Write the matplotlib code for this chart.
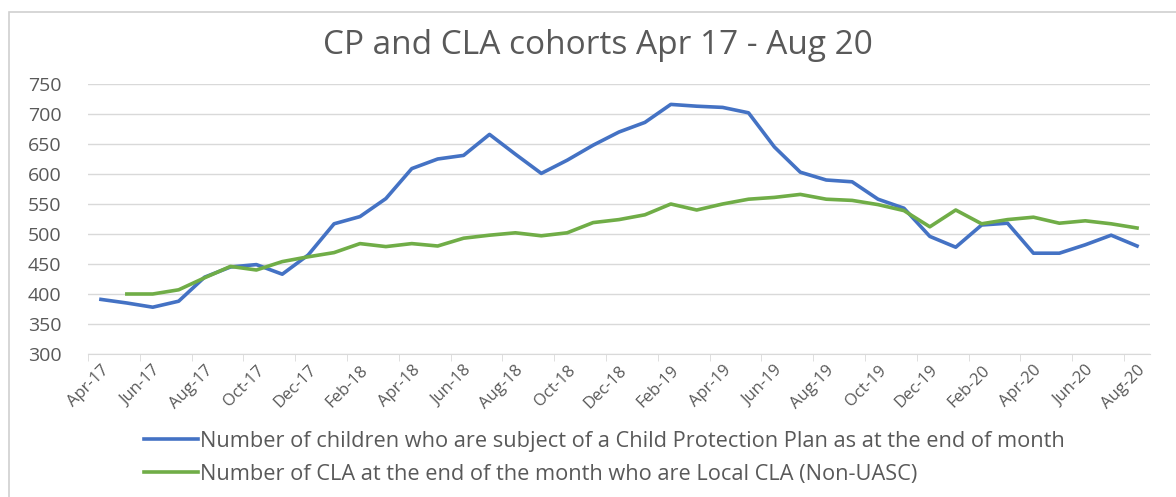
import matplotlib.pyplot as plt
from matplotlib.patches import Rectangle

plt.rcParams['font.family'] = ['Open Sans', 'DejaVu Sans']

months = ['Apr-17', 'May-17', 'Jun-17', 'Jul-17', 'Aug-17', 'Sep-17', 'Oct-17', 'Nov-17',
          'Dec-17', 'Jan-18', 'Feb-18', 'Mar-18', 'Apr-18', 'May-18', 'Jun-18', 'Jul-18',
          'Aug-18', 'Sep-18', 'Oct-18', 'Nov-18', 'Dec-18', 'Jan-19', 'Feb-19', 'Mar-19',
          'Apr-19', 'May-19', 'Jun-19', 'Jul-19', 'Aug-19', 'Sep-19', 'Oct-19', 'Nov-19',
          'Dec-19', 'Jan-20', 'Feb-20', 'Mar-20', 'Apr-20', 'May-20', 'Jun-20', 'Jul-20',
          'Aug-20']

cp_plan = [391, 385, 378, 388, 428, 445, 449, 433, 465, 517, 529, 559, 609, 625,
           631, 666, 633, 601, 623, 648, 670, 686, 716, 713, 711, 702, 645, 603,
           590, 587, 558, 543, 496, 478, 515, 518, 468, 468, 482, 498, 480]

# green series starts one month later
cla_local = [None, 400, 400, 407, 427, 446, 440, 454, 462, 469, 484, 479, 484, 480,
             493, 498, 502, 497, 502, 519, 524, 532, 550, 540, 550, 558, 561, 566,
             558, 556, 549, 539, 512, 540, 517, 524, 528, 518, 522, 517, 510]

cp_label = 'Number of children who are subject of a Child Protection Plan as at the end of month'
cla_label = 'Number of CLA at the end of the month who are Local CLA (Non-UASC)'

x = list(range(len(months)))
cla_x = [i for i, v in zip(x, cla_local) if v is not None]
cla_y = [v for v in cla_local if v is not None]

W, H = 1176, 497
fig = plt.figure(figsize=(W / 100, H / 100), dpi=100)
ax = fig.add_axes([88 / W, 1 - 354 / H, (1150 - 88) / W, (354 - 84) / H])

# chart border
fig.patches.append(Rectangle((9 / W, -0.1), 1.1, 1 - 12 / H + 0.1, transform=fig.transFigure,
                             fill=False, edgecolor='#d0d0d0', linewidth=1.2))

line_cp, = ax.plot(x, cp_plan, color='#4472C4', linewidth=2.6, solid_joinstyle='round')
line_cla, = ax.plot(cla_x, cla_y, color='#70AD47', linewidth=2.6, solid_joinstyle='round')

ax.set_ylim(300, 750)
ax.set_yticks(range(300, 751, 50))
ax.set_xlim(-0.5, len(months) - 0.5)
ax.set_xticks(x[::2])
ax.set_xticklabels(months[::2], rotation=45, ha='right', rotation_mode='anchor')
ax.set_xticks([i - 0.5 for i in range(0, len(months) + 1, 2)], minor=True)

ax.grid(axis='y', color='#d9d9d9', linewidth=1)
ax.set_axisbelow(True)
for s in ['top', 'right', 'left']:
    ax.spines[s].set_visible(False)
ax.spines['bottom'].set_color('#d9d9d9')
ax.tick_params(axis='y', length=0, labelsize=14, labelcolor='#595959', pad=19)
ax.tick_params(axis='x', which='major', length=0, labelsize=12, labelcolor='#595959', pad=6)
ax.tick_params(axis='x', which='minor', length=5, color='#d9d9d9')

fig.text(598 / W, 1 - 45 / H, 'CP and CLA cohorts Apr 17 - Aug 20', ha='center', va='center',
         fontsize=24, color='#595959')

fig.legend([line_cp, line_cla], [cp_label, cla_label], loc='center left',
           bbox_to_anchor=(124 / W, 1 - 458 / H), frameon=False, fontsize=15.7,
           labelcolor='#595959', handlelength=2.5, handletextpad=0.1, labelspacing=0.55)

fig.savefig('out.png', dpi=100)
